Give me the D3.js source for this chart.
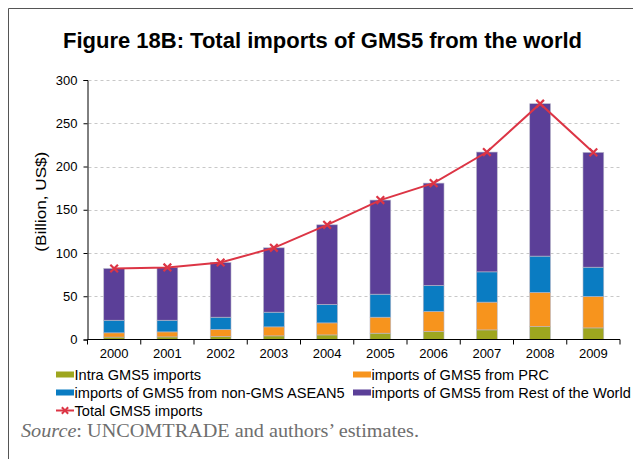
<!DOCTYPE html>
<html>
<head>
<meta charset="utf-8">
<script src="https://cdn.jsdelivr.net/npm/d3@7/dist/d3.min.js"></script>
<style>
  html, body { margin: 0; padding: 0; background: #fff; }
  svg { display: block; }
</style>
</head>
<body>
<svg id="chart" width="633" height="459"></svg>
<script>
// Years and stacked import components (billion US$)
const years = ["2000","2001","2002","2003","2004","2005","2006","2007","2008","2009"];
const intraGMS5   = [2.8, 3.0, 3.3, 4.2, 5.3, 7.3, 9.3, 11.1, 15.0, 13.4];
const fromPRC     = [4.9, 5.8, 8.3, 10.4, 13.9, 18.5, 23.1, 32.1, 39.4, 36.3];
const fromASEAN5  = [14.6, 13.5, 14.2, 17.0, 21.3, 26.6, 30.1, 35.0, 42.0, 33.9];
const fromRoW     = [59.8, 61.0, 63.2, 74.4, 92.1, 108.8, 118.3, 138.5, 176.2, 132.7];
const totalImports = [82.1, 83.3, 89.0, 106.0, 132.6, 161.2, 180.8, 216.7, 272.6, 216.3];
const yTicks = [0, 50, 100, 150, 200, 250, 300];

const seriesNames = [
  "Intra GMS5 imports",
  "imports of GMS5 from PRC",
  "imports of GMS5 from non-GMS ASEAN5",
  "imports of GMS5 from Rest of the World"
];
const seriesColors = ["#9ea61f", "#f7941d", "#0a7cc2", "#5b3f98"];
const lineName = "Total GMS5 imports";
const lineColor = "#dc3545";

const svg = d3.select("#chart");
const font = "Liberation Sans, Arial, sans-serif";

// Outer frame
svg.append("path")
  .attr("d", "M8.5,459 L8.5,8.5 L633,8.5")
  .attr("fill", "none").attr("stroke", "#555").attr("stroke-width", 1);

// Title
svg.append("text")
  .attr("x", 322.5).attr("y", 48)
  .attr("text-anchor", "middle")
  .attr("font-family", font)
  .attr("font-weight", "bold").attr("font-size", 22)
  .attr("fill", "#000")
  .text("Figure 18B: Total imports of GMS5 from the world");

const plotL = 87.5, plotR = 620, plotT = 80, plotB = 339.5;

const x = d3.scaleBand().domain(years).range([plotL, plotR]).paddingInner(0.61).paddingOuter(0.305);
const xOuter = d3.scaleBand().domain(years).range([plotL, plotR]);
const y = d3.scaleLinear().domain([0, 300]).range([plotB, plotT]);

// Gridlines
svg.append("g").selectAll("line")
  .data(yTicks.filter(d => d > 0))
  .join("line")
  .attr("x1", plotL + 1).attr("x2", plotR)
  .attr("y1", d => Math.round(y(d)) + 0.5).attr("y2", d => Math.round(y(d)) + 0.5)
  .attr("stroke", "#c8c8c8").attr("stroke-width", 1)
  .attr("stroke-dasharray", "3,3");

// Stacked bars
const rows = years.map((yr, i) => ({
  year: yr, s0: intraGMS5[i], s1: fromPRC[i], s2: fromASEAN5[i], s3: fromRoW[i]
}));
const stack = d3.stack().keys(["s0","s1","s2","s3"])(rows);

svg.append("g").selectAll("g")
  .data(stack)
  .join("g")
  .attr("fill", (d, i) => seriesColors[i])
  .selectAll("rect")
  .data(d => d)
  .join("rect")
  .attr("x", d => x(d.data.year))
  .attr("width", x.bandwidth())
  .attr("y", d => y(d[1]))
  .attr("height", d => y(d[0]) - y(d[1]))
  .attr("stroke", "#b8b8c8").attr("stroke-width", 0.6);

// Axes
const yAxis = svg.append("g")
  .attr("transform", `translate(${plotL},0)`)
  .call(d3.axisLeft(y).tickValues(yTicks).tickSize(4).tickPadding(6));
yAxis.select(".domain").attr("stroke", "#000");
yAxis.selectAll(".tick line").attr("stroke", "#000");
yAxis.selectAll("text").attr("font-family", font).attr("font-size", 13).attr("fill", "#000");

const xAxisG = svg.append("g").attr("transform", `translate(0,${plotB})`);
xAxisG.append("line")
  .attr("x1", plotL).attr("x2", plotR)
  .attr("y1", 0).attr("y2", 0).attr("stroke", "#000");
xAxisG.selectAll("line.tk")
  .data(years.concat(["end"]))
  .join("line").attr("class", "tk")
  .attr("x1", (d, i) => plotL + i * xOuter.step()).attr("x2", (d, i) => plotL + i * xOuter.step())
  .attr("y1", 0).attr("y2", 5).attr("stroke", "#000");
xAxisG.selectAll("text")
  .data(years)
  .join("text")
  .attr("x", d => xOuter(d) + xOuter.bandwidth() / 2)
  .attr("y", 18.5)
  .attr("text-anchor", "middle")
  .attr("font-family", font).attr("font-size", 13).attr("fill", "#000")
  .text(d => d);

// Y-axis title
svg.append("text")
  .attr("transform", `translate(46,201.7) rotate(-90)`)
  .attr("text-anchor", "middle")
  .attr("font-family", font).attr("font-size", 14.5).attr("fill", "#000")
  .attr("textLength", 100).attr("lengthAdjust", "spacingAndGlyphs")
  .text("(Billion, US$)");

// Total line with x markers
const cx = yr => x(yr) + x.bandwidth() / 2;
const line = d3.line()
  .x((d, i) => cx(years[i]))
  .y(d => y(d));
svg.append("path")
  .datum(totalImports)
  .attr("d", line)
  .attr("fill", "none").attr("stroke", lineColor).attr("stroke-width", 2);

const cross = d3.symbol().type(d3.symbolX).size(40);
svg.append("g").selectAll("path")
  .data(totalImports)
  .join("path")
  .attr("transform", (d, i) => `translate(${cx(years[i])},${y(d)})`)
  .attr("d", cross)
  .attr("stroke", lineColor).attr("stroke-width", 2.2).attr("fill", "none");

// Legend
const legendItems = [
  { name: seriesNames[0], color: seriesColors[0], x: 56, y: 379.5 },
  { name: seriesNames[1], color: seriesColors[1], x: 353, y: 379.5 },
  { name: seriesNames[2], color: seriesColors[2], x: 56, y: 397.5 },
  { name: seriesNames[3], color: seriesColors[3], x: 353, y: 397.5 }
];
const lg = svg.append("g");
legendItems.forEach(it => {
  lg.append("rect")
    .attr("x", it.x).attr("y", it.y - 8)
    .attr("width", 18).attr("height", 6)
    .attr("fill", it.color);
  lg.append("text")
    .attr("x", it.x + 18.5).attr("y", it.y)
    .attr("font-family", font).attr("font-size", 14.6).attr("fill", "#000")
    .text(it.name);
});
lg.append("line")
  .attr("x1", 56).attr("x2", 74).attr("y1", 410.5).attr("y2", 410.5)
  .attr("stroke", lineColor).attr("stroke-width", 2);
lg.append("path")
  .attr("transform", "translate(65,410.5)")
  .attr("d", d3.symbol().type(d3.symbolX).size(28))
  .attr("stroke", lineColor).attr("stroke-width", 2).attr("fill", "none");
lg.append("text")
  .attr("x", 74.5).attr("y", 415.5)
  .attr("font-family", font).attr("font-size", 14.6).attr("fill", "#000")
  .text(lineName);

// Source note
const src = svg.append("text")
  .attr("x", 21).attr("y", 437)
  .attr("font-family", "Liberation Serif, Times New Roman, serif")
  .attr("font-size", 18).attr("fill", "#6e6e6e")
  .attr("textLength", 398).attr("lengthAdjust", "spacingAndGlyphs");
src.append("tspan").attr("font-style", "italic").text("Source");
src.append("tspan").text(": UNCOMTRADE and authors\u2019 estimates.");
</script>
</body>
</html>
